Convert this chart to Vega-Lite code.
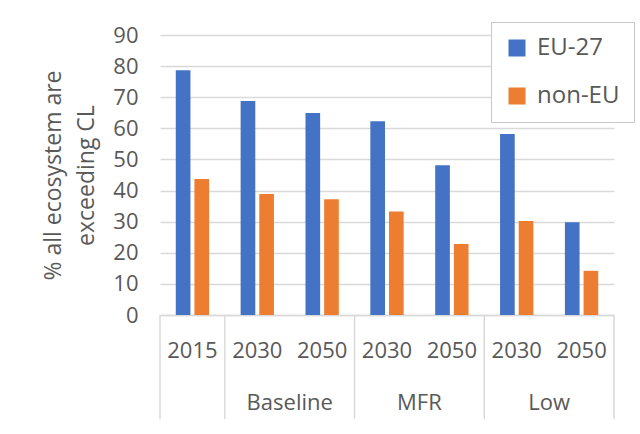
{
  "$schema": "https://vega.github.io/schema/vega-lite/v6.json",
  "padding": {"left": 42, "top": 21, "right": 5, "bottom": 5},
  "background": "white",
  "bounds": "flush",
  "spacing": 0,
  "config": {
    "font": "Open Sans",
    "view": {"stroke": null},
    "concat": {"spacing": 0}
  },
  "datasets": {
    "bars": [
      {"cat": "2015", "series": "EU-27", "value": 78.7},
      {"cat": "2015", "series": "non-EU", "value": 43.7},
      {"cat": "Baseline 2030", "series": "EU-27", "value": 68.8},
      {"cat": "Baseline 2030", "series": "non-EU", "value": 38.9},
      {"cat": "Baseline 2050", "series": "EU-27", "value": 64.9},
      {"cat": "Baseline 2050", "series": "non-EU", "value": 37.2},
      {"cat": "MFR 2030", "series": "EU-27", "value": 62.3},
      {"cat": "MFR 2030", "series": "non-EU", "value": 33.3},
      {"cat": "MFR 2050", "series": "EU-27", "value": 48.1},
      {"cat": "MFR 2050", "series": "non-EU", "value": 22.8},
      {"cat": "Low 2030", "series": "EU-27", "value": 58.2},
      {"cat": "Low 2030", "series": "non-EU", "value": 30.2},
      {"cat": "Low 2050", "series": "EU-27", "value": 29.8},
      {"cat": "Low 2050", "series": "non-EU", "value": 14.2}
    ],
    "cats": [
      {"cat": "2015", "year": "2015", "group": "", "first": true, "last": false},
      {"cat": "Baseline 2030", "year": "2030", "group": "Baseline", "first": true, "last": false},
      {"cat": "Baseline 2050", "year": "2050", "group": "Baseline", "first": false, "last": false},
      {"cat": "MFR 2030", "year": "2030", "group": "MFR", "first": true, "last": false},
      {"cat": "MFR 2050", "year": "2050", "group": "MFR", "first": false, "last": false},
      {"cat": "Low 2030", "year": "2030", "group": "Low", "first": true, "last": false},
      {"cat": "Low 2050", "year": "2050", "group": "Low", "first": false, "last": true}
    ]
  },
  "resolve": {"scale": {"x": "shared"}},
  "vconcat": [
    {
      "width": 454,
      "height": 280,
      "data": {"name": "bars"},
      "mark": {"type": "bar"},
      "encoding": {
        "x": {
          "field": "cat", "type": "nominal",
          "sort": ["2015", "Baseline 2030", "Baseline 2050", "MFR 2030", "MFR 2050", "Low 2030", "Low 2050"],
          "scale": {"paddingInner": 0, "paddingOuter": 0},
          "axis": {"title": null, "labels": false, "ticks": false, "grid": false, "domainColor": "#D9D9D9", "domainWidth": 1.5}
        },
        "xOffset": {
          "field": "series", "type": "nominal",
          "scale": {"paddingInner": 0.214, "paddingOuter": 0.845}
        },
        "y": {
          "field": "value", "type": "quantitative",
          "scale": {"domain": [0, 90], "nice": false},
          "axis": {
            "values": [0, 10, 20, 30, 40, 50, 60, 70, 80, 90],
            "title": ["% all ecosystem are", "exceeding CL"],
            "titleFontSize": 23, "titleFontWeight": "normal", "titleColor": "#595959",
            "titleLineHeight": 33, "titlePadding": 14,
            "labelFontSize": 22, "labelColor": "#595959", "labelPadding": 22,
            "domain": false, "ticks": false,
            "gridColor": "#D9D9D9", "gridWidth": 1.5
          }
        },
        "color": {
          "field": "series", "type": "nominal",
          "scale": {"domain": ["EU-27", "non-EU"], "range": ["#4472C4", "#ED7D31"]},
          "legend": {
            "title": null, "orient": "none", "legendX": 331, "legendY": -13,
            "fillColor": "white", "strokeColor": "#C8C8C8",
            "padding": 14, "symbolType": "square", "symbolSize": 289,
            "symbolStrokeWidth": 0,
            "labelFontSize": 24, "labelColor": "#595959", "labelOffset": 8,
            "rowPadding": 24
          }
        }
      }
    },
    {
      "width": 454,
      "height": 104,
      "data": {"name": "cats"},
      "layer": [
        {
          "mark": {"type": "text", "fontSize": 22, "color": "#595959", "dy": 10},
          "encoding": {
            "x": {"field": "cat", "type": "nominal", "sort": ["2015", "Baseline 2030", "Baseline 2050", "MFR 2030", "MFR 2050", "Low 2030", "Low 2050"], "axis": null},
            "y": {"datum": "year", "type": "nominal", "scale": {"domain": ["year", "group"]}, "axis": null},
            "text": {"field": "year"}
          }
        },
        {
          "transform": [{"filter": "datum.first && datum.group != ''"}],
          "mark": {"type": "text", "fontSize": 22, "color": "#595959", "dy": 10},
          "encoding": {
            "x": {"field": "cat", "type": "nominal", "sort": ["2015", "Baseline 2030", "Baseline 2050", "MFR 2030", "MFR 2050", "Low 2030", "Low 2050"], "bandPosition": 1, "axis": null},
            "y": {"datum": "group", "type": "nominal", "axis": null},
            "text": {"field": "group"}
          }
        },
        {
          "transform": [{"filter": "datum.first"}],
          "mark": {"type": "rule", "color": "#D9D9D9", "strokeWidth": 1.5},
          "encoding": {
            "x": {"field": "cat", "type": "nominal", "sort": ["2015", "Baseline 2030", "Baseline 2050", "MFR 2030", "MFR 2050", "Low 2030", "Low 2050"], "bandPosition": 0, "axis": null}
          }
        },
        {
          "transform": [{"filter": "datum.last"}],
          "mark": {"type": "rule", "color": "#D9D9D9", "strokeWidth": 1.5},
          "encoding": {
            "x": {"field": "cat", "type": "nominal", "sort": ["2015", "Baseline 2030", "Baseline 2050", "MFR 2030", "MFR 2050", "Low 2030", "Low 2050"], "bandPosition": 1, "axis": null}
          }
        }
      ]
    }
  ]
}
